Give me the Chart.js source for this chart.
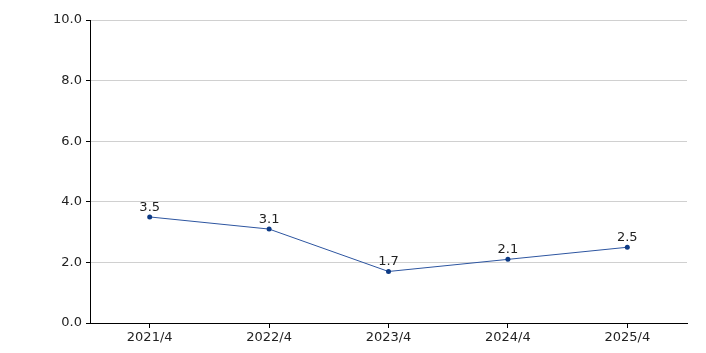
<!DOCTYPE html>
<html>
<head>
  <meta charset="utf-8">
  <title>Line chart</title>
  <script src="https://cdn.jsdelivr.net/npm/chart.js"></script>
  <style>
    body { margin: 0; background: #fff; }
    .chart-box { width: 706px; height: 353px; }
  </style>
</head>
<body>
  <div class="chart-box">
    <canvas id="lineChart"></canvas>
  </div>
  <script>
    // categories and values
    const periods = ['2021/4', '2022/4', '2023/4', '2024/4', '2025/4'];
    const values = [3.5, 3.1, 1.7, 2.1, 2.5];
    const yTicks = [0, 2, 4, 6, 8, 10];

    // simple value labels above each point
    const valueLabels = {
      id: 'valueLabels',
      afterDatasetsDraw(chart) {
        const ctx = chart.ctx;
        const meta = chart.getDatasetMeta(0);
        ctx.save();
        ctx.font = '13px "DejaVu Sans", Verdana, sans-serif';
        ctx.fillStyle = '#222';
        ctx.textAlign = 'center';
        ctx.textBaseline = 'bottom';
        meta.data.forEach((pt, i) => {
          ctx.fillText(values[i].toFixed(1), pt.x, pt.y - 3);
        });
        ctx.restore();
      }
    };

    Chart.defaults.font.family = '"DejaVu Sans", Verdana, sans-serif';
    Chart.defaults.font.size = 13;
    Chart.defaults.color = '#222';

    new Chart(document.getElementById('lineChart'), {
      type: 'line',
      data: {
        labels: periods,
        datasets: [{
          data: values,
          borderColor: '#2d55a0',
          backgroundColor: '#0d3a85',
          borderWidth: 1,
          pointRadius: 2.5,
          pointBorderWidth: 0,
          tension: 0,
          fill: false
        }]
      },
      options: {
        responsive: true,
        maintainAspectRatio: false,
        animation: false,
        layout: { padding: { top: 20, right: 19, left: 0, bottom: 0 } },
        plugins: {
          legend: { display: false },
          tooltip: { enabled: false }
        },
        scales: {
          x: {
            offset: true,
            grid: { drawOnChartArea: false, drawTicks: true, tickLength: 5, tickColor: '#000' },
            border: { color: '#000', width: 1 },
            ticks: { padding: 2 },
            afterFit(scale) { scale.height = 30; }
          },
          y: {
            min: 0,
            max: 10,
            afterBuildTicks(scale) { scale.ticks = yTicks.map(v => ({ value: v })); },
            grid: { color: '#d0d0d0', tickColor: '#000', tickLength: 4 },
            border: { color: '#000', width: 1 },
            ticks: { callback: v => v.toFixed(1), padding: 4 },
            afterFit(scale) { scale.width = 90; }
          }
        }
      },
      plugins: [valueLabels]
    });
  </script>
</body>
</html>
